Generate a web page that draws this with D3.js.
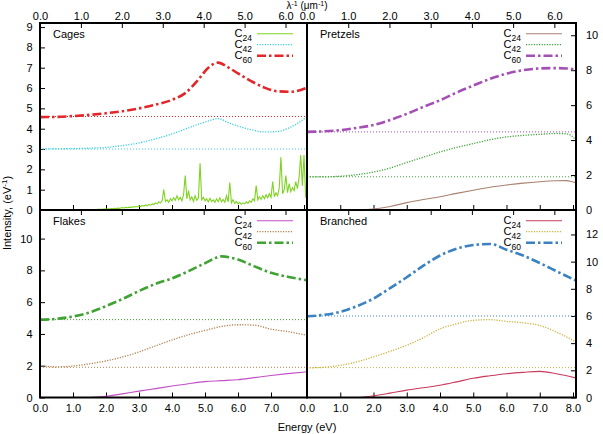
<!DOCTYPE html>
<html lang="en">
<head>
<meta charset="utf-8">
<title>Intensity vs energy</title>
<script src="https://d3js.org/d3.v7.min.js"></script>
<style>
  body { margin: 0; background: #fff; }
  text { font-family: "Liberation Sans", Arial, sans-serif; font-size: 11px; fill: #000; }
</style>
</head>
<body>
<div id="chart"></div>
<script>
// ---- data ----
const seriesLabels = ["24", "42", "60"];
const panelNames = ["Cages", "Pretzels", "Flakes", "Branched"];

const energyTicks = [0, 1, 2, 3, 4, 5, 6, 7, 8];
const invMicronTicks = [0, 1, 2, 3, 4, 5, 6];
const cagesTicks = [0, 1, 2, 3, 4, 5, 6, 7, 8, 9];
const pretzelsTicks = [0, 2, 4, 6, 8, 10];
const flakesTicks = [0, 2, 4, 6, 8, 10];
const branchedTicks = [0, 2, 4, 6, 8, 10, 12];

// Cages C24 is noisy, sampled every 0.05 eV from 0
const cagesC24Step = 0.05;
const cagesC24 = [
  0,0,0,0,0,0,0,0,0,0, 0,0,0,0,0,0,0,0,0,0, 0,0,0,0,0,0,0,0,0,0, 0,
  0.01,0.01,0.02,0.02,0.03,0.03,0.04,0.04,0.05,0.05,
  0.06,0.05,0.07,0.06,0.08,0.07,0.09,0.08,0.10,0.12,
  0.10,0.13,0.11,0.14,0.12,0.16,0.14,0.17,0.15,0.20,
  0.17,0.22,0.19,0.25,0.21,0.28,0.24,0.30,0.27,0.35,
  0.30,0.40,0.34,0.45,1.00,0.42,0.50,0.38,0.55,0.45,
  0.60,0.48,0.70,0.50,0.62,0.45,0.75,1.70,0.55,0.95,
  0.50,0.65,0.42,0.70,0.48,0.60,2.30,0.50,0.62,0.45,
  0.55,0.40,0.58,0.42,0.50,0.38,0.55,0.42,0.60,0.40,
  0.52,0.38,0.70,0.40,1.35,0.35,0.50,0.32,0.42,0.30,
  0.38,0.28,0.35,0.30,0.40,0.32,0.45,0.38,0.55,0.45,
  1.20,0.50,0.65,0.52,0.70,0.55,0.75,0.60,0.80,0.62,
  1.40,0.65,0.85,0.70,1.10,2.60,0.80,1.00,1.70,0.85,
  1.30,0.90,1.10,0.95,1.40,1.05,1.60,2.70,1.20,2.70,
  0.60
];
const cagesEnergy = [0, 0.5, 1, 1.5, 2, 2.5, 3, 3.5, 4, 4.4, 4.8, 5.1, 5.4, 5.7, 6.0, 6.4, 6.8, 7.2, 7.6, 8.09];
const cagesC42 = [3.0, 3.01, 3.02, 3.04, 3.08, 3.17, 3.3, 3.5, 3.74, 3.98, 4.22, 4.38, 4.5, 4.3, 4.13, 3.95, 3.84, 3.86, 4.08, 4.58];
const cagesC60 = [4.57, 4.58, 4.62, 4.68, 4.76, 4.86, 5.0, 5.18, 5.42, 5.75, 6.42, 7.0, 7.25, 7.02, 6.72, 6.34, 6.02, 5.84, 5.82, 6.02];

const pretzelsEnergy = [0, 0.5, 1, 1.5, 2, 2.5, 3, 3.5, 4, 4.5, 5, 5.5, 6, 6.5, 7, 7.5, 7.8, 7.95, 8.09];
const pretzelsC24 = [0, 0, 0, 0.01, 0.06, 0.2, 0.42, 0.6, 0.76, 0.95, 1.13, 1.3, 1.43, 1.54, 1.62, 1.67, 1.68, 1.63, 1.56];
const pretzelsC42 = [1.9, 1.9, 1.93, 2.02, 2.17, 2.4, 2.72, 3.02, 3.32, 3.58, 3.8, 4.02, 4.18, 4.27, 4.33, 4.38, 4.36, 4.25, 4.0];
const pretzelsC60 = [4.47, 4.5, 4.57, 4.7, 4.86, 5.15, 5.5, 5.9, 6.28, 6.72, 7.12, 7.5, 7.8, 8.0, 8.1, 8.12, 8.1, 8.07, 8.04];

const flakesEnergy = [0, 0.5, 1, 1.5, 2, 2.5, 3, 3.5, 4, 4.5, 5, 5.5, 6, 6.5, 7, 7.5, 8.09];
const flakesC24 = [0, 0, 0, 0, 0.07, 0.23, 0.4, 0.56, 0.72, 0.87, 1.0, 1.06, 1.12, 1.25, 1.38, 1.5, 1.62];
const flakesC42 = [2.0, 1.93, 1.98, 2.12, 2.3, 2.55, 2.87, 3.25, 3.62, 3.95, 4.22, 4.47, 4.58, 4.55, 4.3, 4.15, 3.92];
const flakesC60 = [4.9, 4.95, 5.1, 5.35, 5.75, 6.2, 6.7, 7.15, 7.5, 7.95, 8.45, 8.88, 8.68, 8.25, 7.85, 7.6, 7.38];

const branchedEnergy = [0, 0.5, 1, 1.5, 2, 2.5, 3, 3.5, 4, 4.5, 5, 5.5, 6, 6.5, 7, 7.5, 8.09];
const branchedC24 = [0, 0, 0, 0, 0.12, 0.32, 0.54, 0.72, 0.9, 1.15, 1.42, 1.6, 1.75, 1.85, 1.92, 1.75, 1.44];
const branchedC42 = [2.18, 2.22, 2.37, 2.62, 2.99, 3.4, 3.85, 4.4, 5.05, 5.42, 5.68, 5.73, 5.6, 5.5, 5.3, 4.82, 4.09];
const branchedC60 = [5.98, 6.08, 6.3, 6.72, 7.28, 8.05, 8.85, 9.7, 10.45, 10.95, 11.22, 11.3, 10.88, 10.45, 9.9, 9.3, 8.6];

// vertical offsets (dotted guide lines)
const offsets42 = [3.0, 1.9, 1.9, 2.2];
const offsets60 = [4.6, 4.47, 4.9, 6.0];

// ---- layout ----
const width = 603, height = 434;
const cols = [{x0: 40, x1: 307}, {x0: 307, x1: 576}];
const rows = [{y0: 23, y1: 210}, {y0: 210, y1: 397.5}];
const eMax = 8.09, eVperInvMicron = 1.23984;

const panels = [
  {name: panelNames[0], col: 0, row: 0, yMax: 9.2, ticks: cagesTicks, side: "left",
   colors: ["#7ed321", "#3ad0e0", "#e3262a"],
   series: [cagesC24.map((v, i) => [i * cagesC24Step, v]),
            cagesEnergy.map((e, i) => [e, cagesC42[i]]),
            cagesEnergy.map((e, i) => [e, cagesC60[i]])]},
  {name: panelNames[1], col: 1, row: 0, yMax: 10.7, ticks: pretzelsTicks, side: "right",
   colors: ["#a88270", "#3fa63b", "#a34fb5"],
   series: [pretzelsEnergy.map((e, i) => [e, pretzelsC24[i]]),
            pretzelsEnergy.map((e, i) => [e, pretzelsC42[i]]),
            pretzelsEnergy.map((e, i) => [e, pretzelsC60[i]])]},
  {name: panelNames[2], col: 0, row: 1, yMax: 11.8, ticks: flakesTicks, side: "left",
   colors: ["#c24fc6", "#b4814e", "#3fa333"],
   series: [flakesEnergy.map((e, i) => [e, flakesC24[i]]),
            flakesEnergy.map((e, i) => [e, flakesC42[i]]),
            flakesEnergy.map((e, i) => [e, flakesC60[i]])]},
  {name: panelNames[3], col: 1, row: 1, yMax: 13.8, ticks: branchedTicks, side: "right",
   colors: ["#c83a5c", "#c9b43d", "#3a82c2"],
   series: [branchedEnergy.map((e, i) => [e, branchedC24[i]]),
            branchedEnergy.map((e, i) => [e, branchedC42[i]]),
            branchedEnergy.map((e, i) => [e, branchedC60[i]])]}
];

const dash = [null, "1.2,1.4", "9,3,2.5,3"];
const strokeW = [1.1, 1.3, 2.6];

const svg = d3.select("#chart").append("svg")
  .attr("width", width).attr("height", height);

panels.forEach((p, k) => {
  const c = cols[p.col], r = rows[p.row];
  const x = d3.scaleLinear().domain([0, eMax]).range([c.x0, c.x1]);
  const xl = d3.scaleLinear().domain([0, eMax / eVperInvMicron]).range([c.x0, c.x1]);
  const y = d3.scaleLinear().domain([0, p.yMax]).range([r.y1, r.y0]);
  const g = svg.append("g");

  g.append("clipPath").attr("id", "clip" + k)
    .append("rect").attr("x", c.x0).attr("y", r.y0)
    .attr("width", c.x1 - c.x0).attr("height", r.y1 - r.y0);

  // bottom energy ticks (labels only on lower row)
  const eTicks = p.col === 0 ? energyTicks.filter(d => d < 8) : energyTicks;
  const ax = g.append("g").attr("transform", `translate(0,${r.y1})`)
    .call(d3.axisBottom(x).tickValues(p.row === 1 ? eTicks : energyTicks)
      .tickSize(-5).tickPadding(7)
      .tickFormat(p.row === 1 ? d3.format(".1f") : ""));
  // top 1/lambda ticks (labels only on upper row)
  const at = g.append("g").attr("transform", `translate(0,${r.y0})`)
    .call(d3.axisTop(xl).tickValues(invMicronTicks)
      .tickSize(-5).tickPadding(3)
      .tickFormat(p.row === 0 ? d3.format(".1f") : ""));
  let ay;
  if (p.side === "left") {
    ay = g.append("g").attr("transform", `translate(${c.x0},0)`)
      .call(d3.axisLeft(y).tickValues(p.ticks).tickSize(-5).tickPadding(7.5));
  } else {
    ay = g.append("g").attr("transform", `translate(${c.x1},0)`)
      .call(d3.axisRight(y).tickValues(p.ticks).tickSize(-5).tickPadding(10));
  }
  [ax, at, ay].forEach(a => {
    a.select(".domain").remove();
    a.selectAll("line").attr("stroke", "#000").attr("stroke-width", 1);
    a.selectAll("text").style("font-family", '"Liberation Sans", Arial, sans-serif').style("font-size", "11px");
  });

  const plot = g.append("g").attr("clip-path", `url(#clip${k})`);
  // dotted offset lines
  [[offsets42[k], p.colors[1]], [offsets60[k], p.colors[2]]].forEach(([v, col]) => {
    plot.append("line")
      .attr("x1", c.x0).attr("x2", c.x1)
      .attr("y1", y(v)).attr("y2", y(v))
      .attr("stroke", col).attr("stroke-width", 1)
      .attr("stroke-dasharray", "1,2");
  });

  const line = d3.line().x(d => x(d[0])).y(d => y(d[1]));
  p.series.forEach((s, j) => {
    line.curve(k === 0 && j === 0 ? d3.curveLinear : d3.curveMonotoneX);
    plot.append("path")
      .datum(s)
      .attr("d", line)
      .attr("fill", "none")
      .attr("stroke", p.colors[j])
      .attr("stroke-width", strokeW[j])
      .attr("stroke-dasharray", dash[j]);
  });

  // frame
  g.append("rect")
    .attr("x", c.x0).attr("y", r.y0)
    .attr("width", c.x1 - c.x0).attr("height", r.y1 - r.y0)
    .attr("fill", "none").attr("stroke", "#000").attr("stroke-width", 2);

  // panel name
  g.append("text").attr("x", c.x0 + 13).attr("y", r.y0 + 14.5).text(p.name);

  // legend
  seriesLabels.forEach((lab, j) => {
    const ly = r.y0 + 10.7 + j * 11;
    const t = g.append("text")
      .attr("x", c.x1 - 55).attr("y", ly + 3.5)
      .attr("text-anchor", "end");
    t.append("tspan").text("C");
    t.append("tspan").attr("dy", 3.5).style("font-size", "8.5px").text(lab);
    g.append("line")
      .attr("x1", c.x1 - 50).attr("x2", c.x1 - 14)
      .attr("y1", ly).attr("y2", ly)
      .attr("stroke", p.colors[j])
      .attr("stroke-width", strokeW[j])
      .attr("stroke-dasharray", dash[j]);
  });
});

// axis titles
const topTitle = svg.append("text").attr("x", 307).attr("y", 9).attr("text-anchor", "middle")
  .style("font-size", "10px");
topTitle.append("tspan").text("λ");
topTitle.append("tspan").attr("dy", -3.5).style("font-size", "7px").text("-1");
topTitle.append("tspan").attr("dy", 3.5).text(" (μm");
topTitle.append("tspan").attr("dy", -3.5).style("font-size", "7px").text("-1");
topTitle.append("tspan").attr("dy", 3.5).text(")");

svg.append("text").attr("x", 307).attr("y", 431).attr("text-anchor", "middle").text("Energy (eV)");

const yTitle = svg.append("text")
  .attr("transform", "translate(11,213) rotate(-90)")
  .attr("text-anchor", "middle");
yTitle.append("tspan").text("Intensity, (eV");
yTitle.append("tspan").attr("dy", -4).style("font-size", "8px").text("-1");
yTitle.append("tspan").attr("dy", 4).text(")");
</script>
</body>
</html>
